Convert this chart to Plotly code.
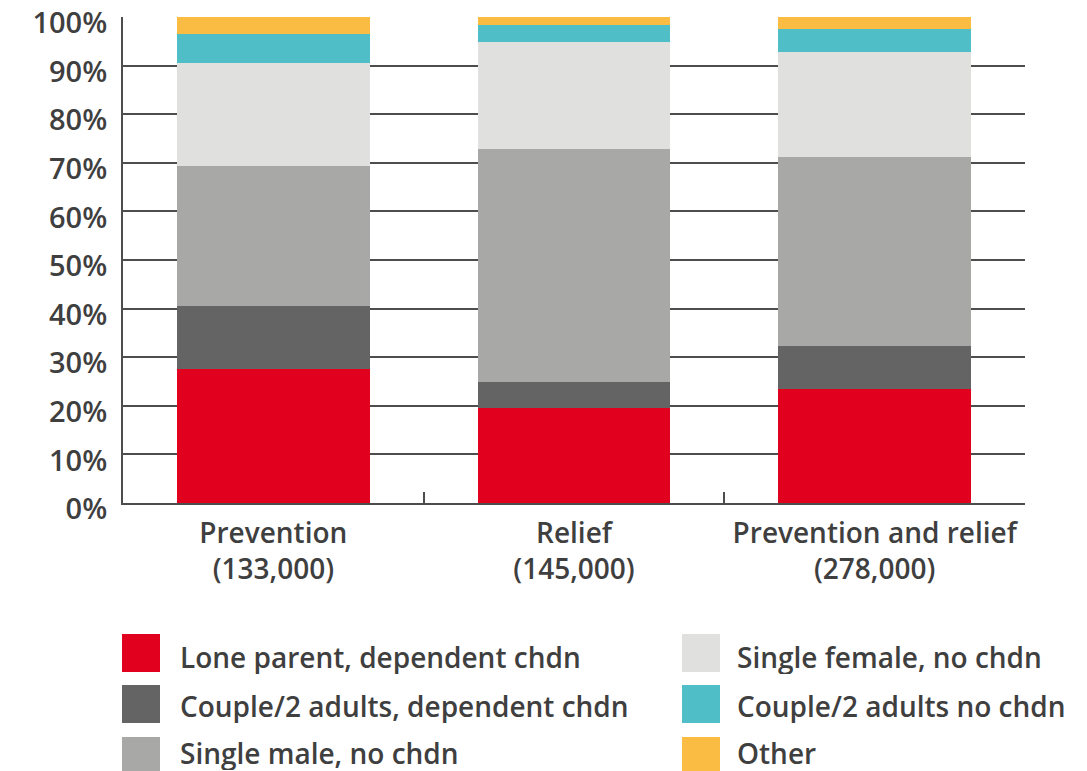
import plotly.graph_objects as go

categories = ["Prevention<br>(133,000)", "Relief<br>(145,000)", "Prevention and relief<br>(278,000)"]
series_names = [
    "Lone parent, dependent chdn",
    "Couple/2 adults, dependent chdn",
    "Single male, no chdn",
    "Single female, no chdn",
    "Couple/2 adults no chdn",
    "Other",
]
lone_parent = [27.6, 19.6, 23.5]
couple_dep = [13.0, 5.3, 8.8]
single_male = [28.8, 47.9, 38.9]
single_female = [21.2, 22.1, 21.6]
couple_no = [6.0, 3.5, 4.7]
other = [3.4, 1.6, 2.5]
series_values = [lone_parent, couple_dep, single_male, single_female, couple_no, other]
colors = ["#E2001F", "#646464", "#A8A8A6", "#E0E0DE", "#4FBEC7", "#FBBC44"]

W, H = 1087, 771
ML, MR, MT, MB = 123, 62, 17, 268
PW, PH = W - ML - MR, H - MT - MB
TEXT = "#3F3F3F"
LINE = "#4D4D4D"
FONT = "Open Sans"

fig = go.Figure()
for name, vals, col in zip(series_names, series_values, colors):
    fig.add_trace(go.Bar(
        x=categories, y=vals, name=name, marker=dict(color=col, line=dict(width=0)),
        showlegend=False, hovertemplate="%{y}%<extra>" + name + "</extra>",
    ))

def px_x(p):
    return (p - ML) / PW

def px_y(p):
    return (H - MB - p) / PH

# custom legend: two columns of three
shapes = []
annotations = []
col_x = [122, 682]
text_x = [180, 737]
row_top = [634, 685, 737]
text_y = [657, 706, 753]
for i, (name, col) in enumerate(zip(series_names, colors)):
    c, r = divmod(i, 3)
    x0, y0 = col_x[c], row_top[r]
    shapes.append(dict(type="rect", xref="paper", yref="paper",
                       x0=px_x(x0), x1=px_x(x0 + 38), y0=px_y(min(y0 + 38, H)), y1=px_y(y0),
                       fillcolor=col, line=dict(width=0), layer="above"))
    annotations.append(dict(xref="paper", yref="paper", x=px_x(text_x[c] - 2), y=px_y(text_y[r]),
                            text=name, showarrow=False, xanchor="left", yanchor="middle",
                            height=34, valign="middle",
                            font=dict(family=FONT, size=28, color=TEXT, weight=600)))

fig.update_layout(
    barmode="stack",
    bargap=0.36,
    width=W, height=H,
    margin=dict(l=ML, r=MR, t=MT, b=MB, pad=0, autoexpand=False),
    paper_bgcolor="white", plot_bgcolor="white",
    font=dict(family=FONT, color=TEXT),
    shapes=shapes,
    annotations=annotations,
    xaxis=dict(
        type="category", automargin=False,
        showline=True, linecolor=LINE, linewidth=2,
        ticks="inside", ticklen=11, tickwidth=2, tickcolor=LINE,
        tickson="boundaries", ticklabelstandoff=4,
        showgrid=False,
        tickfont=dict(family=FONT, size=28, color=TEXT, weight=600),
    ),
    yaxis=dict(
        range=[0, 100], dtick=10, ticksuffix="%", automargin=False,
        showgrid=True, gridcolor=LINE, gridwidth=1.5,
        showline=True, linecolor=LINE, linewidth=2,
        zeroline=False,
        ticks="", ticklabelstandoff=8, ticklabelshift=6,
        tickfont=dict(family=FONT, size=29, color=TEXT, weight=600),
    ),
)

fig.write_html("out.html", config={"displayModeBar": False},
               post_script="document.body.style.margin='0px';")
